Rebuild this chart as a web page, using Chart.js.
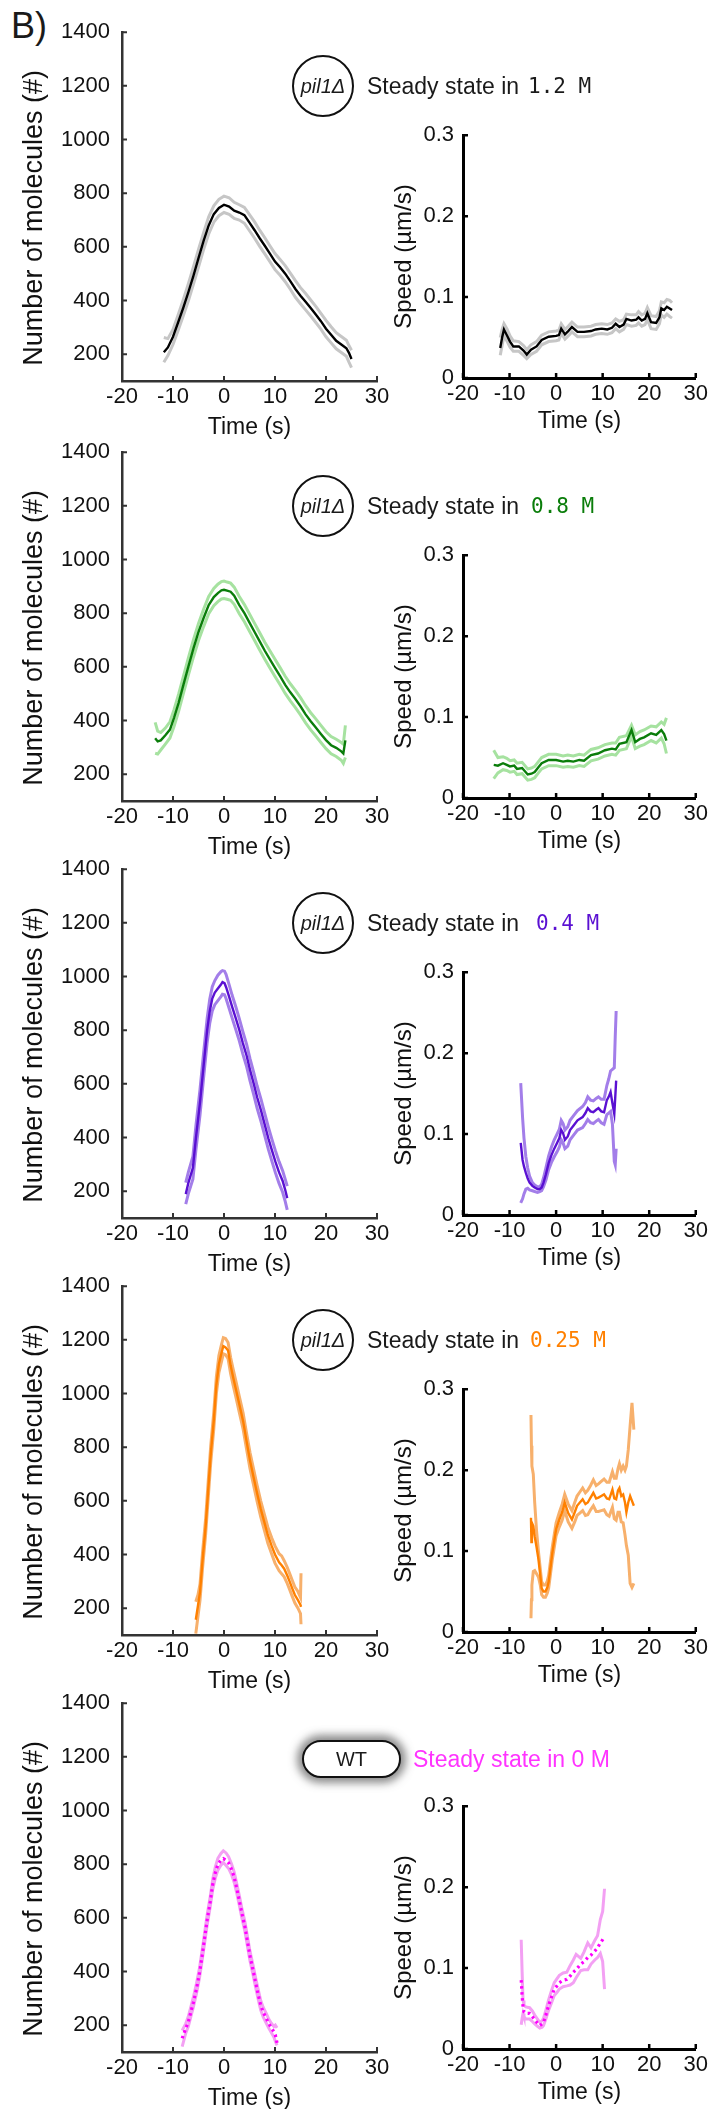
<!DOCTYPE html>
<html>
<head>
<meta charset="utf-8">
<script src="https://cdn.jsdelivr.net/npm/chart.js@4.4.0/dist/chart.umd.min.js"></script>
<style>
  body { margin: 0; background: #fff; }
  #page { position: relative; width: 711px; height: 2109px; overflow: hidden;
          font-family: "Liberation Sans", Arial, sans-serif; color: #1a1a1a; }
  #page canvas { position: absolute; }
  .lbl { position: absolute; white-space: nowrap; height: 32px; line-height: 32px; }
  .strain { position: absolute; box-sizing: border-box; border: 2px solid #111; border-radius: 50%;
            width: 62px; height: 62px; text-align: center; line-height: 58px;
            font-style: italic; font-size: 20px; }
  .wt { position: absolute; box-sizing: border-box; border: 2px solid #111; border-radius: 19px;
        width: 99px; height: 38px; text-align: center; line-height: 34px; font-size: 20px;
        background: #fff; box-shadow: 0 0 8px 5px rgba(90,90,90,0.7); }
</style>
</head>
<body>
<div id="page">
  <div class="lbl" style="left:11px;top:6px;font-size:36px;height:40px;line-height:40px;">B)</div>
</div>
<script>
// axis ticks
const timeTicks = [-20, -10, 0, 10, 20, 30];
const molTicks = [200, 400, 600, 800, 1000, 1200, 1400];
const speedTicks = [0, 0.1, 0.2, 0.3];

// ---- 1.2 M (pil1) ----
const molT1 = [-11.8, -11, -10, -9, -8, -7, -6, -5, -4, -3, -2, -1, 0, 1, 2, 3, 4, 5, 6, 7, 8, 9, 10, 11, 12, 13, 14, 15, 16, 17, 18, 19, 20, 21, 22, 23, 24, 24.5, 25];
const mol1 = [207, 225, 265, 318, 372, 430, 492, 558, 622, 680, 722, 745, 757, 750, 735, 728, 718, 690, 662, 632, 604, 575, 545, 524, 500, 472, 443, 418, 395, 372, 348, 323, 295, 272, 250, 236, 222, 205, 182];
const mol1Hi = [262, 258, 292, 346, 402, 462, 525, 590, 653, 712, 753, 777, 789, 783, 766, 757, 747, 720, 693, 662, 634, 604, 575, 553, 530, 502, 474, 448, 426, 402, 378, 352, 326, 302, 280, 266, 252, 232, 215];
const mol1Lo = [170, 195, 236, 288, 342, 398, 460, 525, 590, 648, 692, 716, 728, 721, 706, 700, 688, 660, 632, 602, 574, 545, 515, 494, 470, 442, 412, 388, 365, 342, 318, 293, 265, 242, 220, 206, 192, 170, 150];

const spdT1 = [-12, -11.6, -11.2, -10.5, -9.9, -9.2, -8, -7, -6.3, -5.4, -4.2, -3.1, -1.6, 0, 0.6, 1.1, 1.9, 2.6, 3.4, 4.6, 6, 7.5, 8.5, 9.8, 11, 12, 12.8, 13.6, 14.5, 15.1, 16.2, 17.2, 17.7, 18.4, 19.1, 19.6, 20.4, 21.5, 22.2, 22.6, 23.2, 23.8, 24.4, 24.9];
const spd1 = [0.037, 0.050, 0.060, 0.052, 0.045, 0.039, 0.039, 0.034, 0.029, 0.035, 0.039, 0.047, 0.051, 0.052, 0.053, 0.061, 0.054, 0.058, 0.063, 0.057, 0.057, 0.058, 0.060, 0.061, 0.060, 0.062, 0.067, 0.063, 0.066, 0.073, 0.071, 0.072, 0.075, 0.071, 0.073, 0.080, 0.069, 0.068, 0.075, 0.086, 0.084, 0.088, 0.086, 0.084];
const spd1Hi = [0.050, 0.060, 0.067, 0.060, 0.052, 0.046, 0.045, 0.040, 0.035, 0.041, 0.045, 0.053, 0.057, 0.058, 0.059, 0.067, 0.060, 0.064, 0.069, 0.063, 0.063, 0.064, 0.066, 0.067, 0.066, 0.068, 0.073, 0.070, 0.072, 0.079, 0.078, 0.078, 0.082, 0.078, 0.080, 0.087, 0.077, 0.076, 0.083, 0.094, 0.093, 0.097, 0.096, 0.093];
const spd1Lo = [0.028, 0.040, 0.052, 0.045, 0.038, 0.033, 0.033, 0.028, 0.024, 0.029, 0.033, 0.041, 0.045, 0.046, 0.047, 0.055, 0.048, 0.052, 0.057, 0.051, 0.051, 0.052, 0.054, 0.055, 0.054, 0.056, 0.061, 0.057, 0.060, 0.066, 0.064, 0.065, 0.068, 0.064, 0.066, 0.072, 0.061, 0.060, 0.067, 0.078, 0.075, 0.079, 0.076, 0.074];

// ---- 0.8 M (pil1) ----
const molT2 = [-13.5, -13, -12.4, -11.5, -10.6, -9.8, -8.9, -8, -7, -6, -5, -4, -3, -2, -1.2, -0.5, 0, 0.6, 1.3, 2, 3, 4, 5, 6, 7, 8, 9, 10, 11, 12, 13, 14, 15, 16, 17, 18, 19, 20, 21, 22, 23, 23.4, 23.8];
const mol2 = [334, 322, 326, 345, 366, 410, 466, 530, 600, 668, 730, 782, 830, 860, 875, 885, 887, 884, 880, 865, 830, 800, 765, 730, 695, 660, 628, 596, 565, 533, 505, 480, 453, 423, 397, 374, 350, 327, 308, 298, 285, 277, 326];
const mol2Hi = [393, 360, 355, 372, 395, 440, 498, 562, 632, 700, 762, 815, 862, 892, 908, 918, 920, 916, 912, 897, 862, 832, 797, 762, 727, 692, 660, 628, 597, 565, 537, 512, 485, 455, 429, 406, 382, 358, 340, 330, 318, 312, 382];
const mol2Lo = [278, 275, 290, 312, 335, 378, 434, 498, 568, 636, 698, 750, 798, 828, 843, 853, 855, 852, 848, 833, 798, 768, 733, 698, 663, 628, 596, 564, 533, 501, 473, 448, 421, 391, 365, 342, 318, 295, 276, 266, 252, 240, 262];

const spdT2 = [-13.4, -12.5, -11.4, -10.6, -9.9, -9, -8.4, -7.3, -6.1, -5.3, -4.6, -3.8, -3.1, -1.6, 0, 1.5, 2.5, 3.7, 5, 6, 7.5, 9, 10.5, 12, 12.8, 13.6, 15.1, 16.2, 17, 18, 18.9, 20.4, 21.5, 22.6, 23.2, 23.7];
const spd2 = [0.041, 0.040, 0.043, 0.041, 0.039, 0.040, 0.036, 0.037, 0.029, 0.030, 0.032, 0.038, 0.043, 0.047, 0.047, 0.045, 0.046, 0.045, 0.047, 0.046, 0.053, 0.055, 0.059, 0.061, 0.060, 0.067, 0.069, 0.084, 0.069, 0.073, 0.075, 0.080, 0.078, 0.084, 0.079, 0.071];
const spd2Hi = [0.059, 0.050, 0.051, 0.049, 0.046, 0.047, 0.043, 0.044, 0.036, 0.037, 0.039, 0.045, 0.050, 0.054, 0.054, 0.052, 0.053, 0.052, 0.054, 0.053, 0.060, 0.062, 0.066, 0.068, 0.068, 0.075, 0.077, 0.090, 0.078, 0.082, 0.084, 0.089, 0.088, 0.094, 0.091, 0.099];
const spd2Lo = [0.024, 0.031, 0.035, 0.034, 0.032, 0.033, 0.029, 0.030, 0.022, 0.023, 0.025, 0.031, 0.036, 0.040, 0.040, 0.038, 0.039, 0.038, 0.040, 0.039, 0.046, 0.048, 0.052, 0.054, 0.053, 0.059, 0.061, 0.076, 0.061, 0.064, 0.066, 0.071, 0.068, 0.074, 0.067, 0.055];

// ---- 0.4 M (pil1) ----
const molT3 = [-7.5, -7, -6.1, -5.5, -4.7, -4, -3.3, -2.8, -2.3, -1.8, -1.2, -0.6, -0.3, 0.1, 0.4, 1, 1.6, 2.3, 3, 3.7, 4.45, 5.1, 5.85, 6.5, 7.25, 8, 8.7, 9.4, 10.06, 10.8, 11.5, 12, 12.4];
const mol3 = [189, 230, 287, 400, 532, 668, 801, 870, 918, 940, 955, 970, 979, 975, 961, 925, 887, 845, 801, 752, 704, 652, 599, 550, 501, 447, 397, 352, 311, 270, 238, 205, 174];
const mol3Hi = [232, 270, 330, 445, 580, 715, 845, 915, 962, 985, 1005, 1018, 1022, 1020, 1008, 970, 930, 888, 843, 795, 746, 694, 641, 592, 543, 489, 439, 393, 352, 310, 276, 245, 219];
const mol3Lo = [152, 190, 245, 355, 485, 622, 755, 825, 872, 895, 910, 925, 934, 932, 918, 882, 845, 803, 760, 711, 663, 611, 558, 509, 460, 406, 356, 311, 270, 229, 196, 162, 130];

const spdT3 = [-7.6, -7.2, -6.9, -6.5, -6.1, -5.7, -5.1, -4.6, -4, -3.5, -3.1, -2.7, -2.2, -1.6, -1, -0.4, 0.2, 0.7, 1.1, 1.5, 1.9, 2.5, 3, 3.8, 4.6, 5.7, 6.3, 6.8, 7.4, 8, 8.6, 9.1, 9.7, 10.3, 10.9, 11.3, 11.7, 12.1, 12.5, 12.7, 12.9];
const spd3 = [0.089, 0.068, 0.060, 0.052, 0.045, 0.040, 0.036, 0.034, 0.032, 0.032, 0.034, 0.040, 0.050, 0.064, 0.074, 0.082, 0.089, 0.095, 0.105, 0.101, 0.093, 0.097, 0.105, 0.111, 0.117, 0.121, 0.126, 0.132, 0.128, 0.127, 0.130, 0.132, 0.128, 0.127, 0.142, 0.146, 0.152, 0.138, 0.125, 0.145, 0.166];
const spd3Hi = [0.163, 0.120, 0.095, 0.072, 0.058, 0.048, 0.040, 0.037, 0.035, 0.035, 0.038, 0.046, 0.058, 0.073, 0.084, 0.093, 0.100, 0.106, 0.117, 0.113, 0.105, 0.109, 0.117, 0.123, 0.129, 0.134, 0.139, 0.146, 0.142, 0.141, 0.144, 0.146, 0.143, 0.143, 0.160, 0.168, 0.178, 0.180, 0.182, 0.220, 0.252];
const spd3Lo = [0.015, 0.020, 0.026, 0.032, 0.033, 0.031, 0.030, 0.029, 0.028, 0.029, 0.030, 0.035, 0.043, 0.056, 0.065, 0.072, 0.078, 0.084, 0.093, 0.089, 0.082, 0.085, 0.093, 0.099, 0.105, 0.108, 0.113, 0.118, 0.114, 0.113, 0.116, 0.118, 0.114, 0.112, 0.124, 0.126, 0.128, 0.112, 0.066, 0.062, 0.082];

// ---- 0.25 M (pil1) ----
const molT4 = [-5.53, -5.1, -4.7, -4.2, -3.6, -3.1, -2.6, -2, -1.5, -1, -0.5, -0.13, 0.3, 0.8, 1.3, 1.8, 2.3, 3, 3.75, 4.4, 5.1, 5.8, 6.5, 7.2, 7.96, 8.6, 9.35, 10, 10.8, 11.3, 11.8, 12.4, 12.9, 13.4, 13.9, 14.5, 15, 15.1];
const mol4 = [157, 210, 261, 380, 505, 640, 774, 900, 1031, 1110, 1150, 1177, 1172, 1160, 1104, 1060, 1019, 960, 897, 825, 750, 688, 627, 570, 517, 472, 432, 400, 371, 360, 347, 322, 298, 273, 249, 230, 212, 205];
const mol4Hi = [224, 250, 290, 410, 535, 672, 806, 932, 1063, 1142, 1182, 1208, 1205, 1190, 1134, 1090, 1049, 990, 927, 855, 780, 718, 657, 600, 547, 502, 462, 432, 403, 395, 377, 352, 328, 303, 279, 262, 240, 330];
const mol4Lo = [105, 170, 230, 350, 475, 608, 742, 868, 999, 1078, 1118, 1148, 1145, 1130, 1074, 1030, 989, 930, 867, 795, 720, 658, 597, 540, 487, 442, 402, 368, 340, 328, 317, 292, 268, 243, 219, 200, 180, 140];

const spdT4 = [-5.4, -5.3, -5.2, -4.9, -4.6, -4.2, -3.8, -3.4, -3.1, -2.7, -2.3, -1.9, -1.6, -1.2, -0.8, 0, 0.7, 1.3, 1.85, 2.6, 3.4, 4, 4.5, 5.1, 5.7, 6.3, 6.8, 7.4, 8, 8.6, 9.1, 9.7, 10.3, 10.9, 11.4, 12.1, 12.5, 12.9, 13.3, 13.6, 14, 14.4, 14.8, 15.1, 15.5, 15.9, 16.3, 16.7];
const spd4 = [0.141, 0.111, 0.135, 0.131, 0.118, 0.105, 0.090, 0.070, 0.054, 0.050, 0.050, 0.055, 0.062, 0.080, 0.098, 0.127, 0.139, 0.148, 0.160, 0.147, 0.139, 0.148, 0.156, 0.160, 0.164, 0.158, 0.160, 0.166, 0.172, 0.165, 0.166, 0.168, 0.170, 0.165, 0.164, 0.176, 0.165, 0.164, 0.175, 0.178, 0.168, 0.170, 0.160, 0.148, 0.160, 0.168, 0.162, 0.156];
const spd4Hi = [0.268, 0.230, 0.205, 0.195, 0.160, 0.125, 0.100, 0.078, 0.062, 0.058, 0.058, 0.063, 0.070, 0.088, 0.106, 0.135, 0.148, 0.158, 0.170, 0.158, 0.150, 0.160, 0.168, 0.173, 0.178, 0.172, 0.175, 0.181, 0.188, 0.181, 0.183, 0.186, 0.189, 0.185, 0.185, 0.198, 0.190, 0.190, 0.202, 0.208, 0.200, 0.205, 0.200, 0.205, 0.225, 0.255, 0.283, 0.250];
const spd4Lo = [0.017, 0.040, 0.058, 0.075, 0.076, 0.072, 0.068, 0.058, 0.046, 0.043, 0.043, 0.048, 0.054, 0.072, 0.090, 0.119, 0.130, 0.138, 0.150, 0.136, 0.128, 0.136, 0.144, 0.147, 0.150, 0.144, 0.145, 0.151, 0.156, 0.149, 0.149, 0.150, 0.151, 0.145, 0.143, 0.154, 0.140, 0.138, 0.148, 0.148, 0.136, 0.135, 0.120, 0.107, 0.095, 0.060, 0.055, 0.060];

// ---- 0 M (WT) ----
const molT5 = [-8.2, -7.5, -7, -6.5, -6, -5.4, -4.8, -4.3, -3.8, -3.3, -2.7, -2.2, -1.7, -1.2, -0.6, -0.13, 0.4, 0.9, 1.5, 2, 2.5, 3, 3.5, 4.1, 4.6, 5.1, 5.7, 6.2, 6.7, 7.2, 7.7, 8.3, 8.8, 9.35, 9.8, 10.06, 10.4];
const mol5 = [151, 188, 212, 249, 285, 335, 395, 457, 525, 592, 660, 726, 768, 799, 815, 821, 815, 805, 780, 751, 710, 665, 618, 567, 512, 457, 405, 359, 315, 274, 248, 225, 205, 188, 175, 164, 134];
const mol5Hi = [180, 206, 232, 268, 305, 355, 414, 477, 545, 612, 680, 746, 790, 822, 840, 850, 842, 828, 800, 770, 728, 683, 636, 585, 530, 475, 423, 377, 334, 292, 266, 243, 222, 205, 195, 200, 190];
const mol5Lo = [120, 170, 195, 232, 268, 317, 377, 439, 506, 573, 641, 707, 748, 778, 796, 806, 795, 784, 760, 732, 692, 647, 600, 549, 494, 439, 387, 341, 297, 256, 230, 207, 188, 170, 155, 140, 125];

const spdT5 = [-7.5, -7.3, -7.1, -6.9, -6.5, -5.7, -5.1, -4.6, -4, -3.5, -3, -2.7, -2.2, -1.6, -1, -0.4, 0.2, 0.7, 1.5, 2.3, 3, 3.7, 4.3, 5.3, 6, 6.8, 7.5, 8.3, 8.9, 9.5, 10, 10.4];
const spd5 = [0.085, 0.065, 0.052, 0.046, 0.044, 0.044, 0.040, 0.036, 0.032, 0.029, 0.031, 0.033, 0.042, 0.054, 0.064, 0.074, 0.078, 0.082, 0.085, 0.086, 0.090, 0.095, 0.098, 0.105, 0.108, 0.113, 0.116, 0.121, 0.125, 0.131, 0.135, 0.139];
const spd5Hi = [0.135, 0.095, 0.060, 0.054, 0.052, 0.051, 0.047, 0.042, 0.037, 0.033, 0.035, 0.038, 0.048, 0.061, 0.072, 0.082, 0.087, 0.091, 0.094, 0.095, 0.103, 0.110, 0.117, 0.112, 0.120, 0.131, 0.125, 0.134, 0.140, 0.160, 0.170, 0.198];
const spd5Lo = [0.030, 0.038, 0.044, 0.040, 0.037, 0.037, 0.034, 0.031, 0.028, 0.026, 0.027, 0.029, 0.037, 0.048, 0.057, 0.066, 0.070, 0.074, 0.077, 0.078, 0.079, 0.082, 0.088, 0.097, 0.098, 0.098, 0.105, 0.110, 0.113, 0.118, 0.108, 0.074];

const conditions = ['1.2 M', '0.8 M', '0.4 M', '0.25 M', '0 M'];
const darkColors = ['#000000', '#0a7d0a', '#5a10d2', '#ff8000', '#ff00ff'];
const lightColors = ['#c6c6c6', '#a6e2a0', '#a37ee9', '#f7b06c', '#f3a0f3'];

const molSets = [
  [molT1, mol1, mol1Hi, mol1Lo], [molT2, mol2, mol2Hi, mol2Lo], [molT3, mol3, mol3Hi, mol3Lo],
  [molT4, mol4, mol4Hi, mol4Lo], [molT5, mol5, mol5Hi, mol5Lo]
];
const spdSets = [
  [spdT1, spd1, spd1Hi, spd1Lo], [spdT2, spd2, spd2Hi, spd2Lo], [spdT3, spd3, spd3Hi, spd3Lo],
  [spdT4, spd4, spd4Hi, spd4Lo], [spdT5, spd5, spd5Hi, spd5Lo]
];

// where each row sits on the page
const molTop = [27, 447, 864, 1281, 1698];
const spdTop = [133, 553, 970, 1387, 1804];
const tagY = [86, 506, 923, 1340, 1759];
const concX = [528, 531, 536, 530];

const page = document.getElementById('page');

// MATLAB style ticks pointing into the plot
const innerTicks = {
  id: 'innerTicks',
  afterDraw(chart, args, opts) {
    const { ctx, chartArea: a, scales: { x, y } } = chart;
    ctx.save();
    ctx.strokeStyle = opts.color;
    ctx.lineWidth = opts.width;
    ctx.beginPath();
    x.ticks.forEach(t => {
      const px = x.getPixelForValue(t.value);
      ctx.moveTo(px, a.bottom);
      ctx.lineTo(px, a.bottom - 5);
    });
    y.ticks.forEach(t => {
      const py = y.getPixelForValue(t.value);
      ctx.moveTo(a.left, py);
      ctx.lineTo(a.left + 5, py);
    });
    ctx.stroke();
    ctx.restore();
  }
};

function pts(ts, vs) {
  return ts.map((t, i) => ({ x: t, y: vs[i] }));
}

function lineSets(set, i) {
  const [ts, mean, hi, lo] = set;
  const dotted = i === 4;
  return [
    { data: pts(ts, mean), borderColor: darkColors[i], borderWidth: dotted ? 3.2 : 2.4,
      borderDash: dotted ? [2.5, 3.5] : [], pointRadius: 0, tension: 0 },
    { data: pts(ts, hi), borderColor: lightColors[i], borderWidth: 3, pointRadius: 0, tension: 0 },
    { data: pts(ts, lo), borderColor: lightColors[i], borderWidth: 3, pointRadius: 0, tension: 0 }
  ];
}

function addCanvas(left, top, w, h) {
  const c = document.createElement('canvas');
  c.width = w; c.height = h;
  c.style.left = left + 'px';
  c.style.top = top + 'px';
  c.style.width = w + 'px';
  c.style.height = h + 'px';
  page.appendChild(c);
  return c;
}

const tickFont = { family: '"Liberation Sans", Arial, sans-serif', size: 22 };

function axisOpts(o) {
  return {
    type: 'linear', min: o.min, max: o.max,
    afterBuildTicks: s => { s.ticks = o.ticks.map(v => ({ value: v })); },
    afterFit: o.fit,
    grid: { display: false, drawTicks: false },
    border: { display: true, color: o.axisColor, width: o.axisWidth },
    ticks: { padding: o.pad, font: tickFont, color: '#111', maxRotation: 0, autoSkip: false,
             callback: v => String(v) },
    title: { display: true, text: o.title, color: '#111',
             font: { family: '"Liberation Sans", Arial, sans-serif', size: o.titleSize },
             padding: o.titlePad }
  };
}

for (let i = 0; i < 5; i++) {
  // number of molecules
  const c1 = addCanvas(0, molTop[i] - 20, 400, 434);
  new Chart(c1, {
    type: 'line',
    data: { datasets: lineSets(molSets[i], i) },
    options: {
      responsive: false, animation: false, events: [],
      layout: { padding: { top: 20, right: 23, left: 0, bottom: 0 } },
      plugins: { legend: { display: false }, tooltip: { enabled: false },
                 innerTicks: { color: '#333', width: 2 } },
      scales: {
        x: axisOpts({ min: -20, max: 30, ticks: timeTicks, fit: s => { s.height = 60; },
                      axisColor: '#333', axisWidth: 2.5, pad: 3, title: 'Time (s)',
                      titleSize: 23, titlePad: { top: 0, bottom: 0 } }),
        // trailing spaces push the label a little toward the bottom of the axis
        y: axisOpts({ min: 100, max: 1400, ticks: molTicks, fit: s => { s.width = 122; },
                      axisColor: '#333', axisWidth: 2.5, pad: 12, title: 'Number of molecules (#)   ',
                      titleSize: 27, titlePad: { top: 18, bottom: 0 } })
      }
    },
    plugins: [innerTicks]
  });

  // speed
  const c2 = addCanvas(385, spdTop[i] - 20, 326, 322);
  new Chart(c2, {
    type: 'line',
    data: { datasets: lineSets(spdSets[i], i) },
    options: {
      responsive: false, animation: false, events: [],
      layout: { padding: { top: 20, right: 11, left: 0, bottom: 0 } },
      plugins: { legend: { display: false }, tooltip: { enabled: false },
                 innerTicks: { color: '#000', width: 2.5 } },
      scales: {
        x: axisOpts({ min: -20, max: 30, ticks: timeTicks, fit: s => { s.height = 57; },
                      axisColor: '#000', axisWidth: 3, pad: 3, title: 'Time (s)',
                      titleSize: 23, titlePad: { top: 0, bottom: 0 } }),
        y: axisOpts({ min: 0, max: 0.3, ticks: speedTicks, fit: s => { s.width = 78; },
                      axisColor: '#000', axisWidth: 3, pad: 9, title: 'Speed (\u00b5m/s)',
                      titleSize: 24, titlePad: { top: 5, bottom: 0 } })
      }
    },
    plugins: [innerTicks]
  });

  // strain tag and condition text
  const y0 = tagY[i];
  if (i < 4) {
    const circ = document.createElement('div');
    circ.className = 'strain';
    circ.style.left = '292px';
    circ.style.top = (y0 - 31) + 'px';
    circ.textContent = 'pil1\u0394';
    page.appendChild(circ);

    const s = document.createElement('div');
    s.className = 'lbl';
    s.style.left = '367px';
    s.style.top = (y0 - 16) + 'px';
    s.style.fontSize = '23px';
    s.textContent = 'Steady state in';
    page.appendChild(s);

    const m = document.createElement('div');
    m.className = 'lbl';
    m.style.left = concX[i] + 'px';
    m.style.top = (y0 - 16) + 'px';
    m.style.fontSize = '21px';
    m.style.fontFamily = '"DejaVu Sans Mono", monospace';
    m.style.color = i === 0 ? '#1a1a1a' : darkColors[i];
    m.textContent = conditions[i];
    page.appendChild(m);
  } else {
    const box = document.createElement('div');
    box.className = 'wt';
    box.style.left = '302px';
    box.style.top = (y0 - 19) + 'px';
    box.textContent = 'WT';
    page.appendChild(box);

    const s = document.createElement('div');
    s.className = 'lbl';
    s.style.left = '413px';
    s.style.top = (y0 - 16) + 'px';
    s.style.fontSize = '23px';
    s.style.color = '#ff33ff';
    s.textContent = 'Steady state in ' + conditions[i];
    page.appendChild(s);
  }
}
</script>
</body>
</html>
